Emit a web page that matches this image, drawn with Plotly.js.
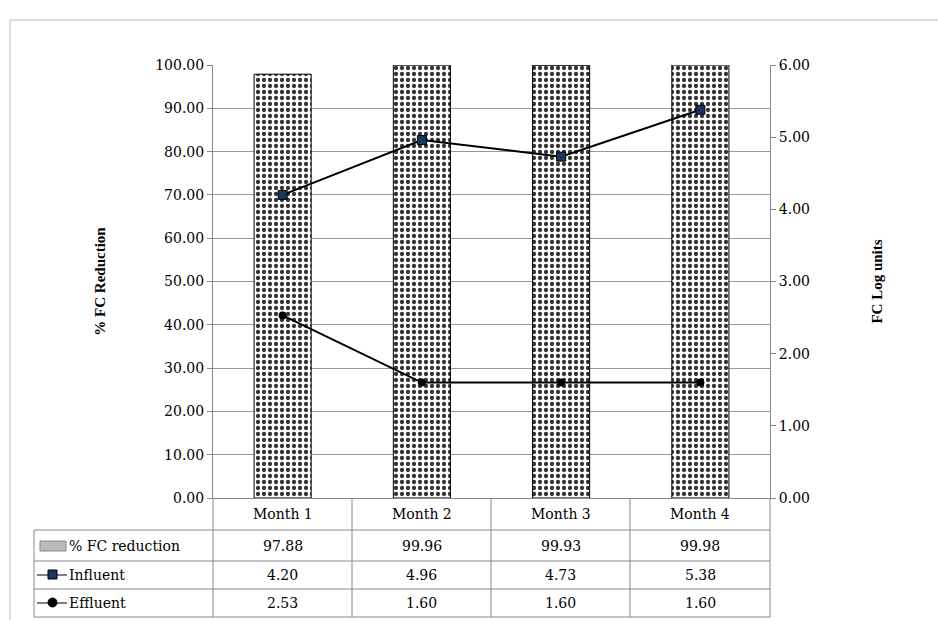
<!DOCTYPE html>
<html><head><meta charset="utf-8">
<script src="https://cdn.plot.ly/plotly-3.0.1.min.js"></script>
<style>body{margin:0;background:#fff}</style>
</head><body>
<div id="chart" style="width:938px;height:620px"></div>
<script>
var months = ['Month 1', 'Month 2', 'Month 3', 'Month 4'];
var fcReduction = [97.88, 99.96, 99.93, 99.98];
var influent = [4.20, 4.96, 4.73, 5.38];
var effluent = [2.53, 1.60, 1.60, 1.60];

var serif = 'DejaVu Serif';
var titleSerif = 'Liberation Serif, DejaVu Serif';
var font = {family: serif, size: 14, color: '#000'};

var bars = {
  x: months, y: fcReduction, type: 'bar', width: 0.41,
  marker: {color: '#fff', line: {color: '#000', width: 1},
    pattern: {shape: '.', fgcolor: '#333', bgcolor: '#fff', size: 6, solidity: 0.4}},
  hoverinfo: 'y'
};
var inf = {
  x: months, y: influent, yaxis: 'y2', mode: 'lines+markers',
  line: {color: '#000', width: 2},
  marker: {symbol: 'square', size: 9, color: '#17375e', line: {color: '#000', width: 1}}
};
var eff = {
  x: months, y: effluent, yaxis: 'y2', mode: 'lines+markers',
  line: {color: '#000', width: 2},
  marker: {symbol: 'circle', size: 8, color: '#000'}
};

// table geometry (pixels -> paper)
var L = 213, R = 770, T = 65, B = 498;
function px(x) { return (x - L) / (R - L); }
function py(y) { return (B - y) / (B - T); }
var colEdges = [213, 352, 491, 630, 770];
var rowEdges = [498, 530, 561, 589, 617];
var shapes = [], ann = [];
var grey = '#888';
function line(x0, y0, x1, y1, c) {
  shapes.push({type: 'line', xref: 'paper', yref: 'paper', x0: px(x0), y0: py(y0), x1: px(x1), y1: py(y1), line: {color: c || grey, width: 1}});
}
function text(x, y, t, xa) {
  ann.push({xref: 'paper', yref: 'paper', x: px(x), y: py(y), xanchor: xa || 'center', yanchor: 'middle', text: t, showarrow: false, font: font});
}
// outer frame
line(10, 20, 938, 20, '#bbb');
line(10, 20, 10, 620, '#bbb');
// verticals
colEdges.forEach(function (x) { line(x, 498, x, 617); });
line(34, 530, 34, 617);
// horizontals
[530, 561, 589, 617].forEach(function (y) { line(34, y, 770, y); });

var rows = [fcReduction, influent, effluent];
var labels = ['% FC reduction', 'Influent', 'Effluent'];
months.forEach(function (m, i) {
  var cx = (colEdges[i] + colEdges[i + 1]) / 2;
  text(cx, (rowEdges[0] + rowEdges[1]) / 2, m);
  rows.forEach(function (r, j) {
    text(cx, (rowEdges[j + 1] + rowEdges[j + 2]) / 2, r[i].toFixed(2));
  });
});
labels.forEach(function (t, j) {
  text(67, (rowEdges[j + 1] + rowEdges[j + 2]) / 2, t, 'left');
});
// legend keys
shapes.push({type: 'rect', xref: 'paper', yref: 'paper', x0: px(40), x1: px(66), y0: py(551), y1: py(541), fillcolor: '#bbb', line: {color: '#888', width: 1}});
line(37, 575, 67, 575, '#000');
shapes.push({type: 'rect', xref: 'paper', yref: 'paper', x0: px(48), x1: px(57), y0: py(579), y1: py(570), fillcolor: '#17375e', line: {color: '#000', width: 1}});
line(37, 603, 67, 603, '#000');
shapes.push({type: 'circle', xref: 'paper', yref: 'paper', x0: px(48), x1: px(57), y0: py(607), y1: py(598), fillcolor: '#000', line: {color: '#000', width: 1}});

var tickfont = {family: serif, size: 14, color: '#000'};
var layout = {
  width: 938, height: 620, showlegend: false,
  margin: {l: L, r: 938 - R, t: T, b: 620 - B},
  paper_bgcolor: '#fff', plot_bgcolor: '#fff', font: font,
  xaxis: {showticklabels: false, ticks: '', showline: true, linecolor: grey, fixedrange: true},
  yaxis: {range: [0, 100], dtick: 10, tickformat: '.2f', tickfont: tickfont, showgrid: true, gridcolor: '#999', showline: true, linecolor: grey,
    ticks: 'outside', ticklen: 5, tickcolor: grey, zeroline: false,
    title: {text: '<b>% FC Reduction</b>', font: {family: titleSerif, size: 15}, standoff: 45}},
  yaxis2: {range: [0, 6], dtick: 1, tickformat: '.2f', tickfont: tickfont, overlaying: 'y', side: 'right', showgrid: false, showline: true, linecolor: grey,
    ticks: 'outside', ticklen: 5, tickcolor: grey, zeroline: false,
    title: {text: '<b>FC Log units</b>', font: {family: titleSerif, size: 15}, standoff: 62}},
  shapes: shapes, annotations: ann
};
Plotly.newPlot('chart', [bars, inf, eff], layout, {displayModeBar: false});
</script>
</body></html>
